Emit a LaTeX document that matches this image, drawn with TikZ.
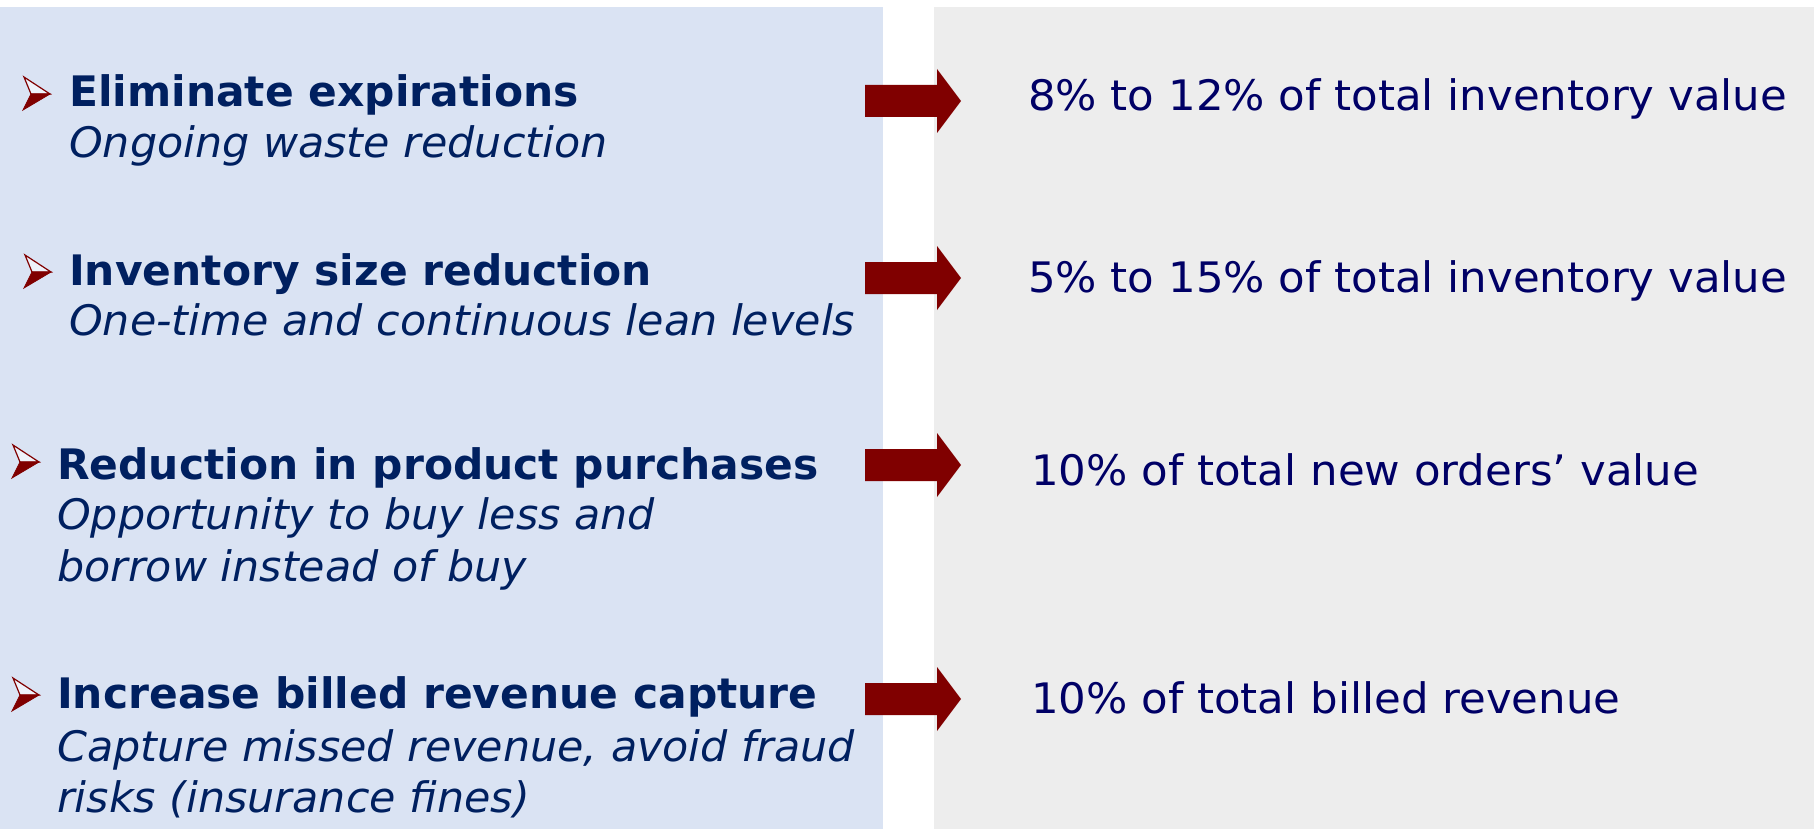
\documentclass[tikz,border=0pt]{standalone}
\usepackage{fontspec}
\setmainfont{DejaVu Sans}
\newfontfamily\headfont[FakeStretch=1.01]{DejaVu Sans}
\newfontfamily\descfont[FakeStretch=1.02]{DejaVu Sans}
\newfontfamily\valuefont[FakeStretch=1.035]{DejaVu Sans}
\definecolor{panelblue}{HTML}{DAE3F3}
\definecolor{panelgray}{HTML}{EDEDED}
\definecolor{navy}{HTML}{002060}
\definecolor{valuenavy}{HTML}{000066}
\definecolor{darkred}{HTML}{800000}
\begin{document}
\begin{tikzpicture}[x=1pt,y=-1pt,
  txt/.style={inner sep=0pt,anchor=base west},
  head/.style={txt,text=navy,font=\headfont\fontsize{42}{51}\selectfont\bfseries},
  desc/.style={txt,text=navy,font=\descfont\fontsize{42}{51}\selectfont\itshape},
  value/.style={txt,text=valuenavy,font=\valuefont\fontsize{42}{51}\selectfont},
  blockarrow/.style={fill=darkred},
  bulletlight/.style={fill=white!55!panelblue,draw=darkred,line width=1.2pt,line join=miter},
  bulletdark/.style={fill=darkred,draw=darkred,line width=0.8pt,line join=miter}]
  \useasboundingbox (0,0) rectangle (1814,829);
  % background panels
  \fill[panelblue] (0,7) rectangle (883,829);
  \fill[panelgray] (934,7) rectangle (1814,829);

  % left column: headings and descriptions
  \node[head] (h1) at (69,107) {Eliminate expirations};
  \node[desc] (d1) at (69,158) {Ongoing waste reduction};
  \node[head] (h2) at (69,285) {Inventory size reduction};
  \node[desc] (d2) at (69,335) {One-time and continuous lean levels};
  \node[head] (h3) at (57,479) {Reduction in product purchases};
  \node[desc] (d3a) at (57,529) {Opportunity to buy less and};
  \node[desc] (d3b) at (57,581) {borrow instead of buy};
  \node[head] (h4) at (57,708) {Increase billed revenue capture};
  \node[desc] (d4a) at (57,761) {Capture missed revenue, avoid fraud};
  \node[desc] (d4b) at (57,812) {risks (insurance fines)};

  % right column: values
  \node[value] (v1) at (1028,111) {8\% to 12\% of total inventory value};
  \node[value] (v2) at (1028,292) {5\% to 15\% of total inventory value};
  \node[value] (v3) at (1031,485) {10\% of total new orders’ value};
  \node[value] (v4) at (1031,713) {10\% of total billed revenue};

  % bullets: a shaded arrowhead before each heading
  \foreach \bx/\by in {23/110, 24/288, 12/478, 12/711}{
    \fill[bulletlight] (\bx+1,\by-33) -- (\bx+27,\by-16) -- (\bx+8,\by-16) -- cycle;
    \fill[bulletdark] (\bx+8,\by-16) -- (\bx+27,\by-16) -- (\bx,\by) -- cycle;
  }

  % block arrows between the two columns
  \foreach \cy in {101, 278, 465, 699}{
    \fill[blockarrow] (865,\cy-16) -- (937,\cy-16) -- (937,\cy-32) -- (961,\cy)
      -- (937,\cy+32) -- (937,\cy+16) -- (865,\cy+16) -- cycle;
  }
\end{tikzpicture}
\end{document}
